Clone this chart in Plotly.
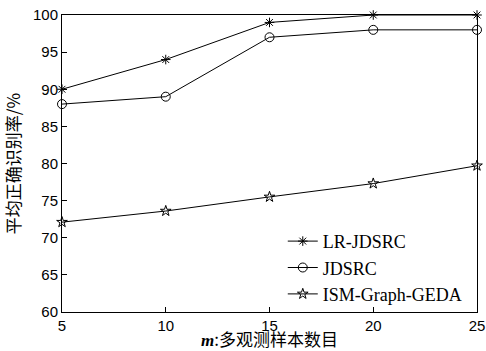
import plotly.graph_objects as go

x_vals = [5, 10, 15, 20, 25]
lr_jdsrc = [90, 94, 99, 100, 100]
jdsrc = [88, 89, 97, 98, 98]
ism_graph_geda = [72.1, 73.6, 75.5, 77.3, 79.7]
series_names = ["LR-JDSRC", "JDSRC", "ISM-Graph-GEDA"]
x_ticks = [5, 10, 15, 20, 25]
y_ticks = [60, 65, 70, 75, 80, 85, 90, 95, 100]

fig = go.Figure()
styles = [("asterisk-open", 8), ("circle-open", 9), ("star-open", 8)]
for name, ys, (sym, sz) in zip(series_names, [lr_jdsrc, jdsrc, ism_graph_geda], styles):
    fig.add_trace(go.Scatter(
        x=x_vals, y=ys, name=name, mode="lines+markers",
        line=dict(color="black", width=1),
        marker=dict(symbol=sym, size=sz, color="black", line=dict(color="black", width=1)),
        cliponaxis=False,
    ))

fig.update_layout(
    width=486, height=351,
    margin=dict(l=62, r=9, t=15, b=39),
    plot_bgcolor="white", paper_bgcolor="white",
    showlegend=True,
    legend=dict(x=0.532, y=0.30, xanchor="left", yanchor="top",
                font=dict(family="Liberation Serif, Times New Roman, serif", size=18, color="black"),
                bgcolor="rgba(0,0,0,0)", itemwidth=30, tracegroupgap=0),
    font=dict(family="Liberation Sans, Arial, sans-serif", size=15, color="black"),
)
fig.update_xaxes(
    range=[5, 25], tickvals=x_ticks, ticks="inside", ticklen=5, tickcolor="black",
    showline=True, linecolor="black", linewidth=1, mirror=True, showgrid=False, zeroline=False,
    automargin=False,
    tickfont=dict(family="Liberation Sans, Arial, sans-serif", size=15, color="black"),
    title=dict(text="<b><i style='font-family:Liberation Serif'>m</i></b>:多观测样本数目",
               font=dict(family="Noto Sans CJK SC, sans-serif", size=17, color="black"), standoff=2),
)
fig.update_yaxes(
    range=[60, 100], tickvals=y_ticks, ticks="inside", ticklen=5, tickcolor="black",
    showline=True, linecolor="black", linewidth=1, mirror=True, showgrid=False, zeroline=False,
    automargin=False,
    tickfont=dict(family="Liberation Sans, Arial, sans-serif", size=15, color="black"),
    title=dict(text="平均正确识别率/%",
               font=dict(family="Noto Sans CJK SC, sans-serif", size=17, color="black"), standoff=11),
)

fig.write_html("out.html", config={"displayModeBar": False},
               post_script="document.body.style.margin='0';document.body.style.overflow='hidden';")
